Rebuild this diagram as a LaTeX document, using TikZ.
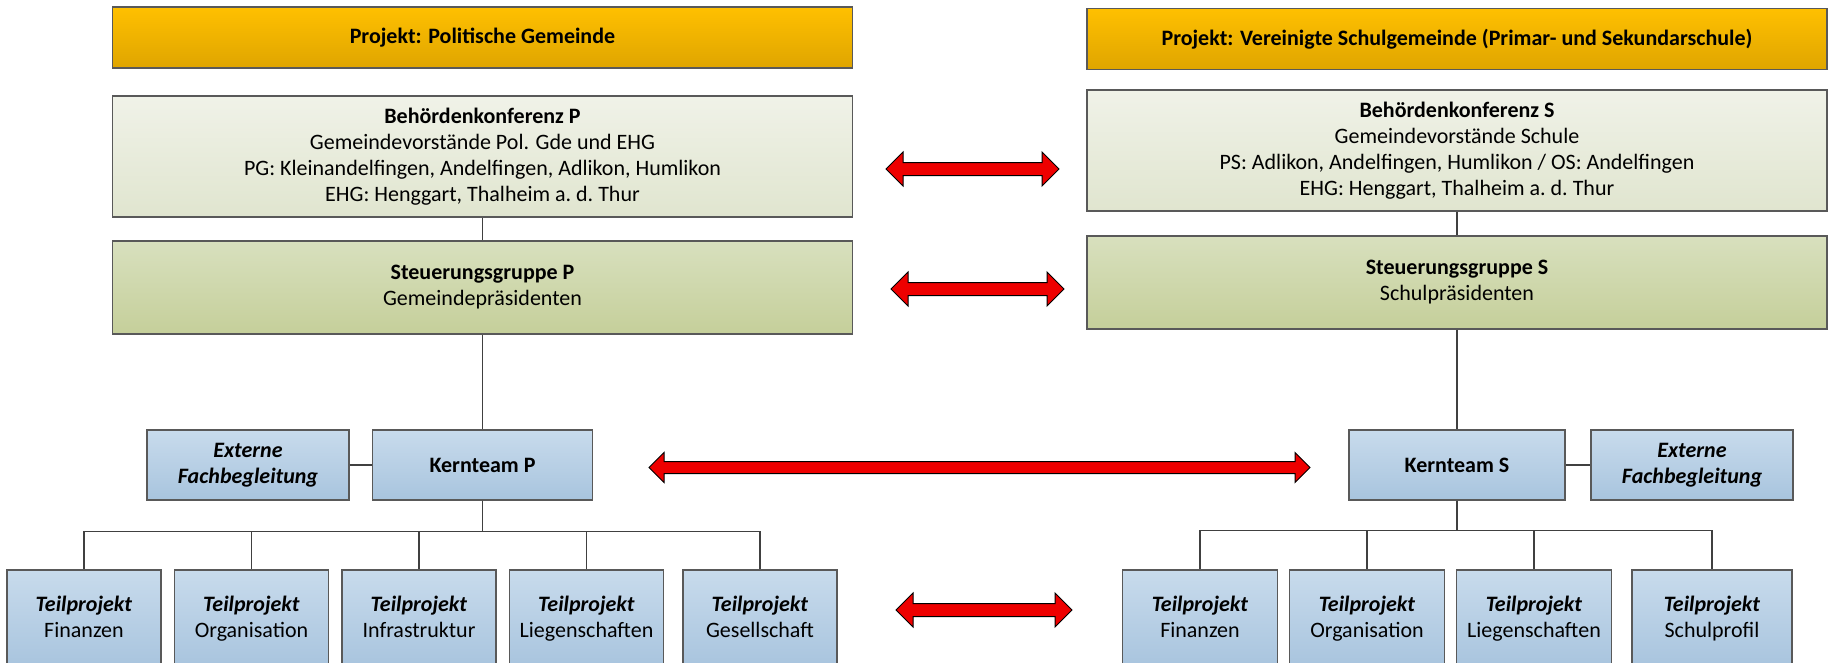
\documentclass[tikz,border=0pt]{standalone}
\usepackage{fontspec}
\setmainfont{Carlito}
\usepackage{tikz}
\usetikzlibrary{shapes.arrows}
\definecolor{goldtop}{HTML}{FFC000}
\definecolor{goldbot}{HTML}{DFA500}
\definecolor{paletop}{HTML}{F0F2E8}
\definecolor{palebot}{HTML}{E0E5CF}
\definecolor{olivetop}{HTML}{D8E0BE}
\definecolor{olivebot}{HTML}{C5CF9A}
\definecolor{bluetop}{HTML}{C8DBEC}
\definecolor{bluebot}{HTML}{A8C4DE}
\definecolor{boxline}{HTML}{595959}
\definecolor{linkgray}{HTML}{404040}
\definecolor{arrred}{HTML}{EE0000}
\newcommand{\tpname}[1]{\textbf{\textit{Teilprojekt}}\strut\\#1\strut}

\begin{document}
\begin{tikzpicture}[x=1pt, y=-1pt, node distance=167.5pt]
% Define styles
\tikzstyle{box} = [rectangle, align=center, draw=boxline, line width=1.1pt, inner sep=2pt, text=black, font=\fontsize{22}{26}\selectfont]
\tikzstyle{projekt} = [box, top color=goldtop, bottom color=goldbot, minimum width=740pt, minimum height=61pt, font=\fontsize{22}{26}\selectfont\bfseries]
\tikzstyle{behoerde} = [box, top color=paletop, bottom color=palebot, minimum width=740pt, minimum height=121pt]
\tikzstyle{steuer} = [box, top color=olivetop, bottom color=olivebot, minimum width=740pt, minimum height=93pt]
\tikzstyle{kern} = [box, top color=bluetop, bottom color=bluebot, minimum height=70pt, font=\fontsize{22}{26}\selectfont\bfseries]
\tikzstyle{extern} = [kern, minimum width=202pt, font=\fontsize{22}{26}\selectfont\bfseries\itshape]
\tikzstyle{teil} = [box, top color=bluetop, bottom color=bluebot, minimum width=154pt, minimum height=98pt]
\tikzstyle{link} = [draw=linkgray, line width=1.3pt]
\tikzstyle{dblarrow} = [shape=double arrow, fill=arrred, draw=black, line width=1pt, inner xsep=0pt, inner ysep=6pt, minimum width=33pt, double arrow head extend=10.5pt]
\useasboundingbox (0,0) rectangle (1832,662);
% Place nodes
\node (projP) [projekt] at (482.5,37.5) {Projekt: Politische Gemeinde};
\node (projS) [projekt] at (1457,39) {Projekt: Vereinigte Schulgemeinde (Primar- und Sekundarschule)};
\node (bkP) [behoerde] at (482.5,156.5) {\textbf{Behördenkonferenz P}\\Gemeindevorstände Pol. Gde und EHG\\PG: Kleinandelfingen, Andelfingen, Adlikon, Humlikon\\EHG: Henggart, Thalheim a.\ d.\ Thur};
\node (bkS) [behoerde] at (1457,150.5) {\textbf{Behördenkonferenz S}\\Gemeindevorstände Schule\\PS: Adlikon, Andelfingen, Humlikon / OS: Andelfingen\\EHG: Henggart, Thalheim a.\ d.\ Thur};
\node (sgP) [steuer] at (482.5,287.5) {\textbf{Steuerungsgruppe P}\\Gemeindepräsidenten};
\node (sgS) [steuer] at (1457,282.5) {\textbf{Steuerungsgruppe S}\\Schulpräsidenten};
\node (kernP) [kern, minimum width=220pt] at (482.5,465) {Kernteam P};
\node (extP) [extern] at (248,465) {Externe\\Fachbegleitung};
\node (kernS) [kern, minimum width=216pt] at (1457,465) {Kernteam S};
\node (extS) [extern] at (1692,465) {Externe\\Fachbegleitung};
\node (tpP1) [teil] at (84,619) {\tpname{Finanzen}};
\node (tpP2) [teil, right of=tpP1] {\tpname{Organisation}};
\node (tpP3) [teil, right of=tpP2] {\tpname{Infrastruktur}};
\node (tpP4) [teil, right of=tpP3] {\tpname{Liegenschaften}};
\node (tpP5) [teil] at (760,619) {\tpname{Gesellschaft}};
\node (tpS1) [teil, minimum width=155pt] at (1200,619) {\tpname{Finanzen}};
\node (tpS2) [teil, minimum width=155pt, node distance=167pt, right of=tpS1] {\tpname{Organisation}};
\node (tpS3) [teil, minimum width=155pt, node distance=167pt, right of=tpS2] {\tpname{Liegenschaften}};
\node (tpS4) [teil, minimum width=160pt] at (1712,619) {\tpname{Schulprofil}};
\node (arrBK) [dblarrow, minimum height=173pt] at (972.5,169) {};
\node (arrSG) [dblarrow, minimum height=173pt] at (977.5,289) {};
\node (arrKT) [dblarrow, minimum height=661pt, minimum width=29pt, inner ysep=5.5pt, double arrow head extend=9pt] at (979.5,467.5) {};
\node (arrTP) [dblarrow, minimum height=176pt] at (984,610) {};
% Draw lines
\draw [link] (bkP) -- (sgP);
\draw [link] (sgP) -- (kernP);
\draw [link] (bkS) -- (sgS);
\draw [link] (sgS) -- (kernS);
\draw [link] (extP) -- (kernP);
\draw [link] (kernS) -- (extS);
\foreach \t in {tpP1,tpP2,tpP3,tpP4,tpP5}
  \draw [link] (kernP.south) -- ++(0,31) -| (\t.north);
\foreach \t in {tpS1,tpS2,tpS3,tpS4}
  \draw [link] (kernS.south) -- ++(0,30) -| (\t.north);
\end{tikzpicture}
\end{document}
